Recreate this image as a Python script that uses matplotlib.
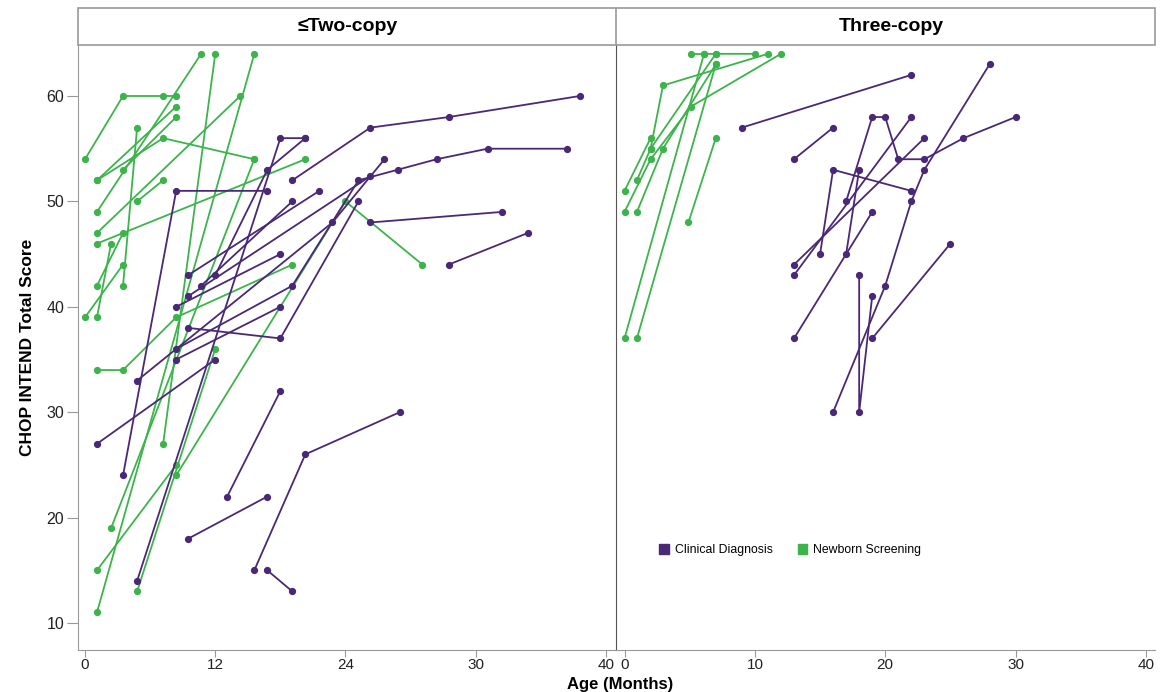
import matplotlib.pyplot as plt
from matplotlib.patches import Rectangle, Patch

PURPLE = '#4a2878'
GREEN = '#3cb44b'

# ---- <=Two-copy panel (ages on the panel's own tick scale) ----
two_clinical = [
    ([19.1, 26.3, 33.5, 45.6], [52, 57, 58, 60]),
    ([8.4, 19.1, 25.2, 28.8, 32.4, 37.1, 44.4], [36, 42, 52, 53, 54, 55, 55]),
    ([26.3, 38.4], [48, 49]),
    ([33.5, 40.8], [44, 47]),
    ([15.6, 20.3, 29.0], [15, 26, 30]),
    ([16.8, 19.1], [15, 13]),
    ([9.5, 16.8], [18, 22]),
    ([13.1, 18.0], [22, 32]),
    ([1.1, 12.0], [27, 35]),
    ([3.5, 8.4, 16.8], [24, 51, 51]),
    ([4.8, 18.0, 20.3], [14, 56, 56]),
    ([12.0, 16.8, 20.3], [43, 53, 56]),
    ([4.8, 22.8, 27.6], [33, 48, 54]),
    ([8.4, 18.0], [35, 40]),
    ([9.5, 18.0, 25.2], [38, 37, 50]),
    ([8.4, 18.0], [40, 45]),
    ([9.5, 21.6], [43, 51]),
    ([10.7, 19.1], [42, 50]),
    ([9.5, 26.3], [41, 52.4]),
]
two_newborn = [
    ([0, 3.5, 7.2, 8.4], [54, 60, 60, 60]),
    ([1.1, 7.2, 15.6], [52, 56, 54]),
    ([1.1, 8.4], [52, 59]),
    ([1.1, 10.7], [49, 64]),
    ([3.5, 8.4], [53, 58]),
    ([3.5, 4.8], [42, 57]),
    ([1.1, 14.3], [47, 60]),
    ([1.1, 20.3], [46, 54]),
    ([0, 3.5], [39, 44]),
    ([1.1, 2.4], [39, 46]),
    ([1.1, 3.5], [42, 47]),
    ([1.1, 3.5, 8.4, 19.1], [34, 34, 39, 44]),
    ([1.1, 8.4], [15, 25]),
    ([1.1, 15.6], [11, 64]),
    ([2.4, 15.6], [19, 54]),
    ([4.8, 12.0], [13, 36]),
    ([7.2, 12.0], [27, 64]),
    ([8.4, 24.0, 31.1], [24, 50, 44]),
    ([4.8, 7.2], [50, 52]),
]

# ---- Three-copy panel ----
three_clinical = [
    ([9, 22], [57, 62]),
    ([13, 16], [54, 57]),
    ([15, 16, 22], [45, 53, 51]),
    ([17, 19, 20, 21, 23, 26, 30], [50, 58, 58, 54, 54, 56, 58]),
    ([13, 23], [44, 56]),
    ([13, 22], [43, 58]),
    ([13, 19], [37, 49]),
    ([17, 18], [45, 53]),
    ([16, 20, 22, 23, 28], [30, 42, 50, 53, 63]),
    ([18, 18, 19], [43, 30, 41]),
    ([19, 25], [37, 46]),
]
three_newborn = [
    ([0, 2], [51, 56]),
    ([0, 2, 5.1, 12], [49, 54, 59, 64]),
    ([0.95, 2, 7], [52, 55, 64]),
    ([0.95, 2.95, 7], [49, 55, 63]),
    ([2, 2.95, 11], [55, 61, 64]),
    ([0, 6.1, 7, 10], [37, 64, 64, 64]),
    ([0.95, 7], [37, 63]),
    ([4.9, 7], [48, 56]),
    ([5.1, 6.1], [64, 64]),
]

y_ticks = [10, 20, 30, 40, 50, 60]
left_xticks = [0, 12, 24, 36, 48]
left_xlabels = ['0', '12', '24', '30', '40']
right_xticks = [0, 10, 20, 30, 40]
right_xlabels = ['0', '10', '20', '30', '40']

plt.rcParams['font.family'] = ['Liberation Sans', 'DejaVu Sans']

fig = plt.figure(figsize=(11.63, 6.92), dpi=100)
ax1 = fig.add_axes([0.0671, 0.0607, 0.4626, 0.8743])
ax2 = fig.add_axes([0.5297, 0.0607, 0.4635, 0.8743])


def draw(ax, groups, color):
    for xs, ys in groups:
        ax.plot(xs, ys, color=color, lw=1.3, marker='o', ms=4.2,
                solid_capstyle='round')


draw(ax1, two_newborn, GREEN)
draw(ax1, two_clinical, PURPLE)
draw(ax2, three_newborn, GREEN)
draw(ax2, three_clinical, PURPLE)

for ax in (ax1, ax2):
    ax.set_ylim(7.44, 64.84)
    for s in ('top', 'right'):
        ax.spines[s].set_visible(False)
    ax.spines['bottom'].set_color('#999999')
    ax.tick_params(axis='x', colors='#999999', labelcolor='#222222',
                   labelsize=11, length=5, pad=1)

ax1.set_xlim(-0.645, 48.94)
ax1.set_xticks(left_xticks)
ax1.set_xticklabels(left_xlabels)
ax1.set_yticks(y_ticks)
ax1.tick_params(axis='y', colors='#999999', labelcolor='#222222',
                labelsize=11.5, length=8, pad=2)
ax1.spines['left'].set_color('#999999')
ax1.set_ylabel('CHOP INTEND Total Score', fontsize=12.5, fontweight='bold',
               labelpad=8)

ax2.set_xlim(-0.65, 40.7)
ax2.set_xticks(right_xticks)
ax2.set_xticklabels(right_xlabels)
ax2.set_yticks([])
ax2.spines['left'].set_color('#555555')

fig.text(0.533, 0.0, 'Age (Months)', ha='center', va='bottom',
         fontsize=12, fontweight='bold')

# strip headers
strip = fig.add_axes([0.0671, 0.935, 0.926, 0.053])
strip.set_xlim(0, 1)
strip.set_ylim(0, 1)
strip.axis('off')
strip.add_patch(Rectangle((0, 0), 1, 1, fill=False, ec='#999999', lw=1.2,
                          transform=strip.transAxes, clip_on=False))
strip.axvline(0.4995, color='#999999', lw=1.2)
strip.text(0.25, 0.5, '≤Two-copy', ha='center', va='center', fontsize=14,
           fontweight='bold')
strip.text(0.755, 0.5, 'Three-copy', ha='center', va='center', fontsize=14,
           fontweight='bold')

handles = [Patch(color=PURPLE, label='Clinical Diagnosis'),
           Patch(color=GREEN, label='Newborn Screening')]
ax2.legend(handles=handles, loc='center left', bbox_to_anchor=(0.06, 0.165),
           ncol=2, frameon=False, fontsize=8.8, handlelength=0.8,
           handleheight=0.8, handletextpad=0.5, columnspacing=2.0)

fig.savefig('out.png', dpi=100)
